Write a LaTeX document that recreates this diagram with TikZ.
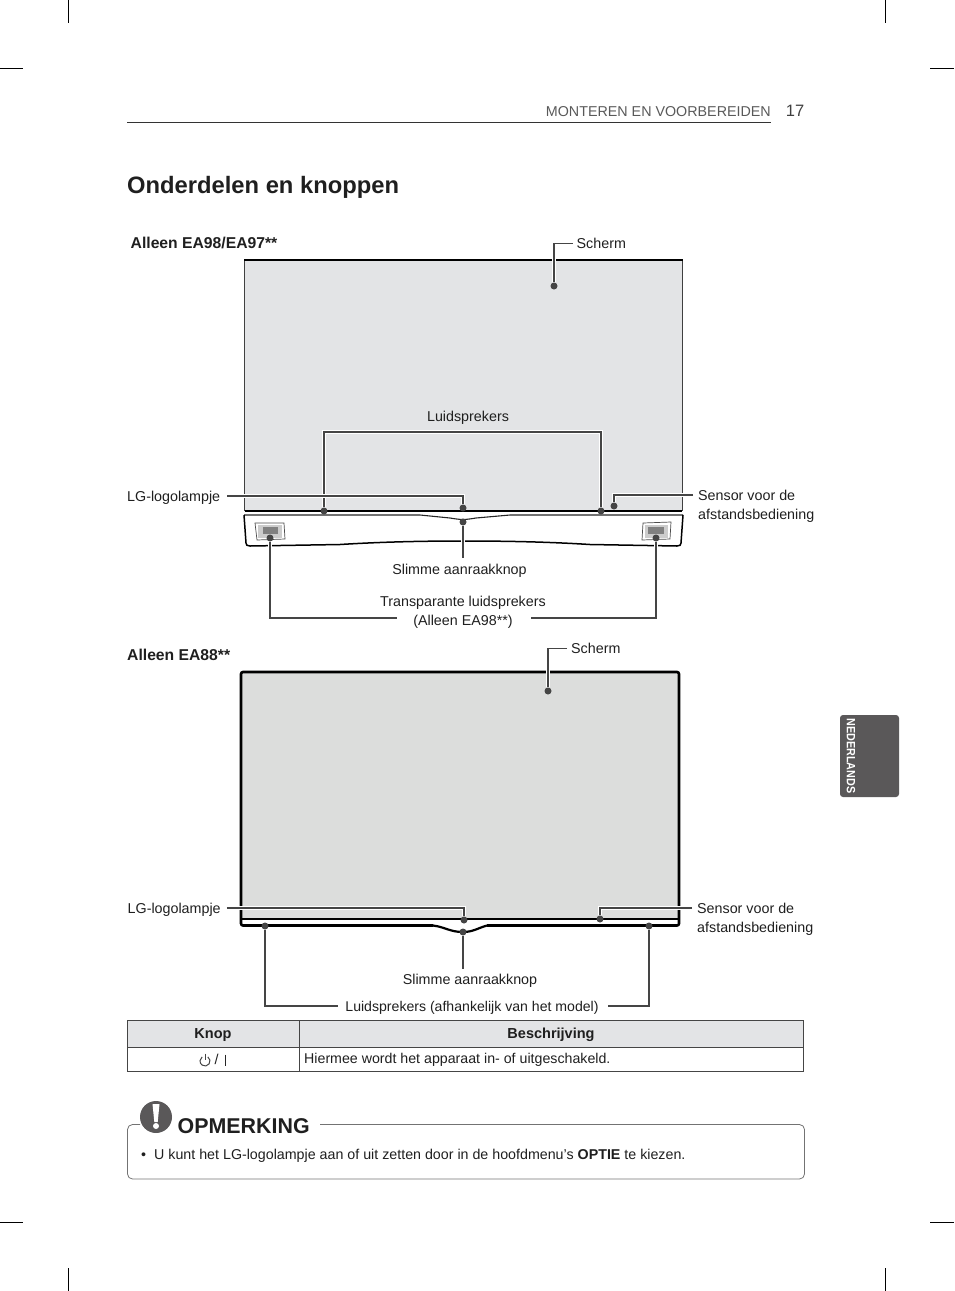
\documentclass[tikz,border=0pt]{standalone}
\usepackage{fontspec}
\setmainfont{Liberation Sans}
\usetikzlibrary{positioning}
\definecolor{screenA}{HTML}{E3E4E6}
\definecolor{screenB}{HTML}{DCDDDC}
\definecolor{tabgray}{HTML}{5A5859}
\definecolor{inkgray}{HTML}{454545}
\begin{document}
\begin{tikzpicture}[
    x=1pt, y=-1pt,
    every node/.style={inner sep=0pt, text=black!88},
    label/.style={font=\fontsize{14.3}{19}\selectfont, align=left},
    heading/.style={font=\fontsize{15.7}{18}\selectfont\bfseries},
    tablehead/.style={font=\fontsize{14.5}{17}\selectfont\bfseries},
    dot/.style={circle, fill=inkgray, minimum size=7pt},
    leader/.style={draw=inkgray, line width=1.05pt, preaction={draw=white, line width=3.2pt}},
    crop/.style={draw=black, line width=0.9pt},
    tablerule/.style={draw=inkgray, line width=0.8pt}
]
\useasboundingbox (0,0) rectangle (954,1291);

% Crop marks
\draw[crop] (68,0) -- (68,23);
\draw[crop] (885,0) -- (885,23);
\draw[crop] (0,68) -- (23,68);
\draw[crop] (930,68) -- (954,68);
\draw[crop] (0,1222) -- (23,1222);
\draw[crop] (930,1222) -- (954,1222);
\draw[crop] (68,1268) -- (68,1291);
\draw[crop] (885,1268) -- (885,1291);

% Page header
\node[anchor=base east, font=\fontsize{14.3}{17}\selectfont, text=black!65] (section) at (771,116) {MONTEREN EN VOORBEREIDEN};
\node[anchor=base, font=\fontsize{16.5}{19}\selectfont, text=black!75] (pagenum) at (795,116) {17};
\draw[draw=black!80, line width=0.8pt] (127,122) -- (771,122);
\node[anchor=base west, font=\fontsize{23.75}{28}\selectfont\bfseries] (title) at (127,193) {Onderdelen en knoppen};

% Language tab
\node[fill=tabgray, rounded corners=3pt, minimum width=59pt, minimum height=82pt] (tab) at (869.5,756) {};
\node[rotate=-90, font=\fontsize{12}{14}\selectfont\bfseries, text=white, xscale=0.9] (tablabel) at (851,756) {NEDERLANDS};

% First monitor
\node[anchor=base west, heading] (modelA) at (130.5,248.5) {Alleen EA98/EA97**};
\fill[screenA] (244.5,260) rectangle (682,511);
\draw[black!75, line width=0.7pt] (244.5,511) -- (244.5,260);
\draw[black!75, line width=0.7pt] (682,260) -- (682,511);
\draw[black, line width=1.3pt] (244,260) -- (682.5,260);
\draw[black, line width=1.6pt] (244.5,511) -- (682,511);
\draw[black!85, line width=1.1pt] (244,515) -- (420,515) -- (450,518) .. controls (456,519) and (460,519.5) .. (463,519.5) .. controls (466,519.5) and (470,519) .. (476,518) -- (510,515) -- (683,515);
\draw[black, line width=1.5pt] (244,515) -- (246,543) .. controls (246,545) and (247,546) .. (250,546) -- (340,544.5) .. controls (380,542) and (420,541) .. (463,541) .. controls (510,541) and (550,542) .. (590,544.5) -- (677,546) .. controls (680,546) and (681,545) .. (681,543) -- (683,515);

% Transparent speaker grilles
\draw[black!70, line width=0.7pt, fill=white] (255,523) -- (284,523) -- (285,539) -- (257,540) -- cycle;
\fill[black!20] (258,525) rectangle (282,538);
\fill[black!50] (263,527) rectangle (278,534);
\draw[black!70, line width=0.7pt, fill=white] (643,523) -- (671,522) -- (670,539) -- (642,540) -- cycle;
\fill[black!20] (645,525) rectangle (668,538);
\fill[black!50] (648,527) rectangle (664,534);

% Labels of the first monitor
\node[label, anchor=west] (screenlblA) at (576.5,243.5) {Scherm};
\node[label, anchor=base] (spklblA) at (468,421) {Luidsprekers};
\node[label, anchor=west] (logolblA) at (127,498) {LG-logolampje};
\node[label, anchor=north west] (sensorlblA) at (698,489.5) {Sensor voor de\\afstandsbediening};
\node[label, anchor=base] (touchlblA) at (459.5,574) {Slimme aanraakknop};
\node[label, anchor=north, align=center] (translbl) at (463,596) {Transparante luidsprekers\\(Alleen EA98**)};

% Dots of the first monitor
\node[dot] (screendotA) at (554,286) {};
\node[dot] (spkdotL) at (324,511) {};
\node[dot] (spkdotR) at (601,511) {};
\node[dot] (logodotA) at (463,508) {};
\node[dot] (sensordotA) at (614,506) {};
\node[dot] (touchdotA) at (463,522) {};
\node[dot] (transdotL) at (270,538) {};
\node[dot] (transdotR) at (656,538) {};

% Leaders of the first monitor
\coordinate (spkbar) at (462,432);
\coordinate (sensorendA) at (693,495);
\coordinate (transendL) at (397,618);
\coordinate (transendR) at (531,618);
\coordinate (touchendA) at (463,558);
\draw[leader] (screenlblA.west) ++(-4,0) -| (screendotA);
\draw[leader] (spkdotL) |- (spkbar) -| (spkdotR);
\draw[leader] (logolblA.east) ++(7,-2) -| (logodotA);
\draw[leader] (sensorendA) -| (sensordotA);
\draw[leader] (touchdotA) -- (touchendA);
\draw[leader] (transdotL) |- (transendL);
\draw[leader] (transdotR) |- (transendR);

% Second monitor
\node[anchor=base west, heading] (modelB) at (127,660.5) {Alleen EA88**};
\fill[screenB] (241,672) rectangle (679,919);
\draw[black, line width=1.8pt] (241,919) -- (679,919);
\draw[black, line width=2.6pt, rounded corners=2pt] (433,925.5) -- (241,925.5) -- (241,672) -- (679,672) -- (679,925.5) -- (487,925.5);
\draw[black, line width=2.2pt] (433,925.5) .. controls (445,927) and (450,932) .. (463,932) .. controls (473,932) and (478,928) .. (487,925.5);

% Labels of the second monitor
\node[label, anchor=west] (screenlblB) at (571,648.5) {Scherm};
\node[label, anchor=west] (logolblB) at (127.5,910) {LG-logolampje};
\node[label, anchor=north west] (sensorlblB) at (697,902.5) {Sensor voor de\\afstandsbediening};
\node[label, anchor=base] (touchlblB) at (470,984) {Slimme aanraakknop};
\node[label, anchor=base, font=\fontsize{14.1}{19}\selectfont] (spklblB) at (472,1011) {Luidsprekers (afhankelijk van het model)};

% Dots of the second monitor
\node[dot] (screendotB) at (548,691) {};
\node[dot] (logodotB) at (464,920) {};
\node[dot] (sensordotB) at (600,919) {};
\node[dot] (touchdotB) at (463,932) {};
\node[dot] (spkdotBL) at (265,926) {};
\node[dot] (spkdotBR) at (649,926) {};

% Leaders of the second monitor
\coordinate (sensorendB) at (692,908);
\coordinate (spkendL) at (338,1006);
\coordinate (spkendR) at (608,1006);
\coordinate (touchendB) at (463,969);
\draw[leader] (screenlblB.west) ++(-4,0) -| (screendotB);
\draw[leader] (logolblB.east) ++(6,-2) -| (logodotB);
\draw[leader] (sensorendB) -| (sensordotB);
\draw[leader] (touchdotB) -- (touchendB);
\draw[leader] (spkdotBL) |- (spkendL);
\draw[leader] (spkdotBR) |- (spkendR);

% Button table
\fill[screenA] (127.5,1020.5) rectangle (803.5,1047);
\draw[tablerule] (127.5,1020.5) rectangle (803.5,1071.5);
\draw[tablerule] (127.5,1047) -- (803.5,1047);
\draw[tablerule] (299,1020.5) -- (299,1071.5);
\node[tablehead, anchor=base] (knop) at (213,1038.5) {Knop};
\node[tablehead, anchor=base] (beschrijving) at (551,1038.5) {Beschrijving};
\node[label, anchor=base west] (slash) at (214.5,1064) {/};
\draw[inkgray, line width=1pt] (205,1053.5) -- (205,1060);
\draw[inkgray, line width=1pt] (207.87,1056.9) arc (-55:235:5);
\draw[black!85, line width=1.8pt] (225.5,1054.5) -- (225.5,1065.5);
\node[label, anchor=base west, font=\fontsize{14.2}{19}\selectfont] (desc) at (304,1063.5) {Hiermee wordt het apparaat in- of uitgeschakeld.};

% Note box
\draw[black!55, line width=0.8pt, rounded corners=5pt] (140,1124.5) -- (127.5,1124.5) -- (127.5,1179) -- (804.5,1179) -- (804.5,1124.5) -- (320,1124.5);
\node[circle, fill=tabgray, minimum size=32pt] (noteicon) at (156,1117) {};
\fill[white] (152.5,1104) -- (159.5,1104) -- (157.7,1122) -- (154.3,1122) -- cycle;
\node[circle, fill=white, minimum size=6pt] (iconpoint) at (156,1126) {};
\node[anchor=base west, font=\fontsize{21.4}{26}\selectfont\bfseries] (notetitle) at (177.5,1133.5) {OPMERKING};
\node[label, anchor=base west, font=\fontsize{14.25}{19}\selectfont] (notetext) at (141,1159) {•\hspace{8pt}U kunt het LG-logolampje aan of uit zetten door in de hoofdmenu’s \textbf{OPTIE} te kiezen.};
\end{tikzpicture}
\end{document}
